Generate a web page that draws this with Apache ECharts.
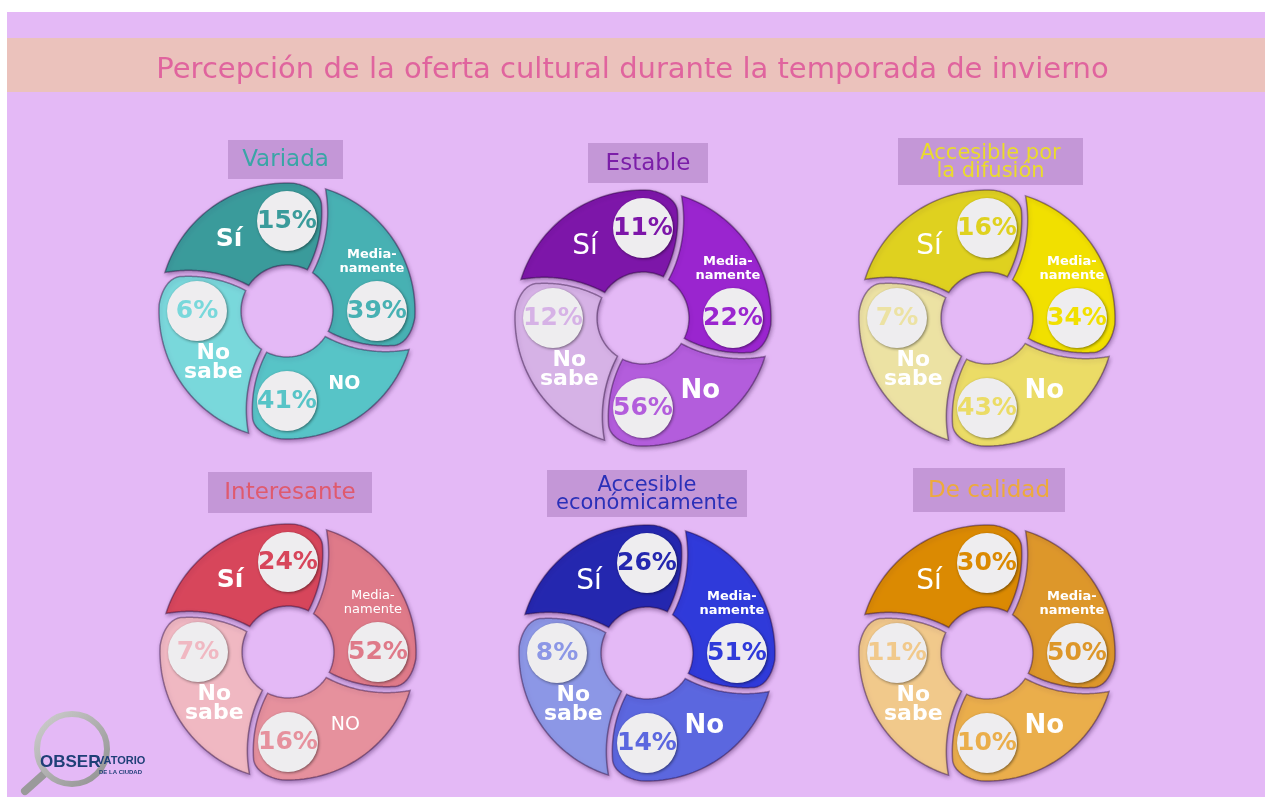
<!DOCTYPE html>
<html>
<head>
<meta charset="utf-8">
<script src="https://cdn.jsdelivr.net/npm/echarts@6/dist/echarts.min.js"></script>
<style>
  html, body { margin: 0; padding: 0; background: #fff; }
  #chart { width: 1265px; height: 797px; }
</style>
</head>
<body>
<div id="chart"></div>
<script>
// data read off the infographic (percent per answer, order: Sí, Medianamente, No, No sabe)
const titles = ['Variada', 'Estable', 'Accesible por\nla difusión', 'Interesante', 'Accesible\neconómicamente', 'De calidad'];
const answers = ['Sí', 'Media-\nnamente', 'No', 'No\nsabe'];
const variada = [15, 39, 41, 6];
const estable = [11, 22, 56, 12];
const difusion = [16, 34, 43, 7];
const interesante = [24, 52, 16, 7];
const economica = [26, 51, 14, 8];
const calidad = [30, 50, 10, 11];
const blocks = [variada, estable, difusion, interesante, economica, calidad];

// layout + styling
const BG = '#E4B9F6';
const R_OUT = 128, R_IN = 46, R_BADGE = 90, BADGE = 30, GAP = 6;
// the cut between two segments sits this many degrees clockwise of the badge (rim, badge radius, hole)
const D_RIM = 16, D_MID = 24, D_IN = 30;
const centers = [[287, 311], [643, 318], [987, 318], [288, 652], [647, 653], [987, 653]];
const palettes = [
  ['#3A9B9B', '#47B1B3', '#57C4C7', '#79D8DB'],
  ['#7D16A9', '#9A25CF', '#B35DDC', '#D6B2E6'],
  ['#DFD11F', '#F1E000', '#EBDC66', '#ECE2A3'],
  ['#D7465B', '#DF7A89', '#E6919D', '#F0B8C2'],
  ['#2427AF', '#2F3ADA', '#5B67DF', '#8C97E6'],
  ['#DB8A02', '#DD972A', '#EAAE4B', '#F1C98B']
];
const titleColors = ['#3AA5A6', '#7B1EA8', '#EADB2C', '#DF5A6E', '#2A30B8', '#EDAA3C'];
const titleBoxes = [[228, 140, 115, 39], [588, 143, 120, 40], [898, 138, 185, 47],
  [208, 472, 164, 41], [547, 470, 200, 47], [913, 468, 152, 44]];
// label placement [radius, angle offset from badge]
const labelPos = [[92, 39], [98, 30], [93, 38], [90, 35]];
const EDGE = 'rgba(30,0,45,0.4)';

// curved cut: circle through three points, badge on the +x axis
const xy = (r, deg) => [r * Math.cos(deg * Math.PI / 180), r * Math.sin(deg * Math.PI / 180)];
function circle3(a, b, c) {
  const d = 2 * (a[0] * (b[1] - c[1]) + b[0] * (c[1] - a[1]) + c[0] * (a[1] - b[1]));
  const s = (p) => p[0] * p[0] + p[1] * p[1];
  const x = (s(a) * (b[1] - c[1]) + s(b) * (c[1] - a[1]) + s(c) * (a[1] - b[1])) / d;
  const y = (s(a) * (c[0] - b[0]) + s(b) * (a[0] - c[0]) + s(c) * (b[0] - a[0])) / d;
  return { x, y, r: Math.hypot(a[0] - x, a[1] - y) };
}
const CUT = circle3(xy(R_OUT, -D_RIM), xy(R_BADGE, -D_MID), xy(R_IN, -D_IN));

// points [radius, angle] of the cut, from rim to hole; off > 0 moves it clockwise
function cutPoints(off, fillet) {
  const pts = [];
  let prev = null;
  for (let t = -30; t >= -160; t -= 0.5) {
    const a = t * Math.PI / 180;
    let rr = CUT.r + off;
    let p = [CUT.x + rr * Math.cos(a), CUT.y + rr * Math.sin(a)];
    let r = Math.hypot(p[0], p[1]);
    if (fillet) {
      const f = Math.max(0, (r - (R_OUT - 16)) / 16);
      rr -= 9 * f * f;
      p = [CUT.x + rr * Math.cos(a), CUT.y + rr * Math.sin(a)];
      r = Math.hypot(p[0], p[1]);
    }
    const cur = [r, Math.atan2(p[1], p[0]) * 180 / Math.PI];
    if (prev) {
      if (prev[0] > R_OUT && cur[0] <= R_OUT) {
        const k = (prev[0] - R_OUT) / (prev[0] - cur[0]);
        pts.push([R_OUT, prev[1] + k * (cur[1] - prev[1])]);
      }
      if (cur[0] <= R_OUT && cur[0] >= R_IN) pts.push(cur);
      if (prev[0] >= R_IN && cur[0] < R_IN) {
        const k = (prev[0] - R_IN) / (prev[0] - cur[0]);
        pts.push([R_IN, prev[1] + k * (cur[1] - prev[1])]);
        break;
      }
    }
    prev = cur;
  }
  return pts;
}
const headCut = cutPoints(-GAP / 2, true);
const tailCut = cutPoints(GAP / 2, false);

function labelFont(d, k) {
  const caps = d === 0 || d === 3;
  if (k === 0) return (caps ? {fontSize: 25, fontWeight: 'bold'} : {fontSize: 28, fontWeight: 'normal'});
  if (k === 1) return {fontSize: 13, fontWeight: d === 3 ? 'normal' : 'bold', lineHeight: 14};
  if (k === 2) return (caps ? {fontSize: 19, fontWeight: d === 3 ? 'normal' : 'bold'} : {fontSize: 26, fontWeight: 'bold'});
  return {fontSize: 22, fontWeight: 'bold', lineHeight: 19};
}

function makeRender(d) {
  const colors = palettes[d];
  return function (params, api) {
    const k = api.value(0);
    const pct = api.value(1);
    const phi = (450 - 90 * k) % 360;

    const pts = [];
    const hRim = headCut[0][1], hIn = headCut[headCut.length - 1][1];
    const tRim = tailCut[0][1] + 90, tIn = tailCut[tailCut.length - 1][1] + 90;
    for (let a = hRim; a < tRim; a += 2) pts.push(api.coord([R_OUT, phi + a]));
    tailCut.forEach(p => pts.push(api.coord([p[0], phi + 90 + p[1]])));
    for (let a = tIn; a > hIn; a -= 2) pts.push(api.coord([R_IN, phi + a]));
    for (let i = headCut.length - 1; i >= 0; i--) pts.push(api.coord([headCut[i][0], phi + headCut[i][1]]));

    const c = api.coord([R_BADGE, phi]);
    const o = api.coord([0, 0]);
    const px = Math.hypot(c[0] - o[0], c[1] - o[1]) / R_BADGE;
    const lp = api.coord([labelPos[k][0], phi + labelPos[k][1]]);
    let label = answers[k];
    if (k === 2 && (d === 0 || d === 3)) label = 'NO';

    return {
      type: 'group',
      children: [
        { type: 'polygon', z2: 0, shape: { points: pts },
          style: { fill: colors[k], stroke: EDGE, lineWidth: 1.5,
                   shadowBlur: 4, shadowOffsetX: 1, shadowOffsetY: 2, shadowColor: 'rgba(40,0,60,0.4)' } },
        { type: 'circle', z2: 3, shape: { cx: c[0], cy: c[1], r: BADGE * px },
          style: { fill: '#EEEDEF', shadowBlur: 3, shadowOffsetX: 1, shadowOffsetY: 1, shadowColor: 'rgba(0,0,0,0.45)' } },
        { type: 'text', z2: 4, x: c[0], y: c[1],
          style: { text: pct + '%', fill: colors[k], fontSize: 25, fontWeight: 'bold', fontFamily: 'DejaVu Sans',
                   align: 'center', verticalAlign: 'middle' } },
        { type: 'text', z2: 4, x: lp[0], y: lp[1],
          style: Object.assign({ text: label, fill: '#FFFFFF', fontFamily: 'DejaVu Sans',
                   align: 'center', verticalAlign: 'middle' }, labelFont(d, k)) }
      ]
    };
  };
}

const graphics = [
  { type: 'rect', z: -10, shape: { x: 7, y: 12, width: 1258, height: 785 }, style: { fill: BG } },
  { type: 'rect', z: -9, shape: { x: 7, y: 38, width: 1258, height: 54 }, style: { fill: '#EBC2BC' } }
];
titleBoxes.forEach((b, i) => {
  graphics.push({ type: 'rect', z: -8, shape: { x: b[0], y: b[1], width: b[2], height: b[3] }, style: { fill: '#C497D7' } });
  const twoLines = titles[i].indexOf('\n') >= 0;
  graphics.push({ type: 'text', z: -7, x: b[0] + b[2] / 2, y: b[1] + b[3] / 2 + 1,
    style: { text: titles[i], fill: titleColors[i], fontFamily: 'DejaVu Sans',
             fontSize: twoLines ? 21 : 23, lineHeight: 18, align: 'center', verticalAlign: 'middle' } });
});
// logo
graphics.push(
  { type: 'line', shape: { x1: 44, y1: 774, x2: 25, y2: 791 }, style: { stroke: '#9A9A9A', lineWidth: 8, lineCap: 'round' } },
  { type: 'circle', shape: { cx: 72, cy: 749, r: 35 },
    style: { fill: 'none', lineWidth: 6, stroke: new echarts.graphic.LinearGradient(0, 0, 1, 1,
      [{ offset: 0, color: '#D0D0D0' }, { offset: 1, color: '#8E8E8E' }]) } },
  { type: 'text', x: 40, y: 762, style: { text: 'OBSER', fill: '#1F3F77', fontFamily: 'Liberation Sans', fontWeight: 'bold',
      fontSize: 17, align: 'left', verticalAlign: 'middle' } },
  { type: 'text', x: 97, y: 761, style: { text: 'VATORIO', fill: '#1F3F77', fontFamily: 'Liberation Sans', fontWeight: 'bold',
      fontSize: 11, align: 'left', verticalAlign: 'middle' } },
  { type: 'text', x: 99, y: 772, style: { text: 'DE LA CIUDAD', fill: '#1F3F77', fontFamily: 'Liberation Sans', fontWeight: 'bold',
      fontSize: 6, align: 'left', verticalAlign: 'middle' } }
);

const myChart = echarts.init(document.getElementById('chart'));
myChart.setOption({
  backgroundColor: '#FFFFFF',
  animation: false,
  title: {
    text: 'Percepción de la oferta cultural durante la temporada de invierno',
    left: 'center', top: 56, padding: 0,
    textStyle: { fontFamily: 'DejaVu Sans', fontSize: 29, fontWeight: 'normal', color: '#E0649E' }
  },
  polar: centers.map(c => ({ center: c, radius: R_OUT })),
  radiusAxis: centers.map((c, i) => ({ polarIndex: i, type: 'value', min: 0, max: R_OUT, show: false })),
  angleAxis: centers.map((c, i) => ({ polarIndex: i, type: 'value', min: 0, max: 360, startAngle: 0,
    clockwise: false, show: false })),
  graphic: graphics,
  series: blocks.map((vals, d) => ({
    type: 'custom',
    coordinateSystem: 'polar',
    polarIndex: d,
    silent: true,
    renderItem: makeRender(d),
    data: vals.map((v, k) => [k, v])
  }))
});
</script>
</body>
</html>
